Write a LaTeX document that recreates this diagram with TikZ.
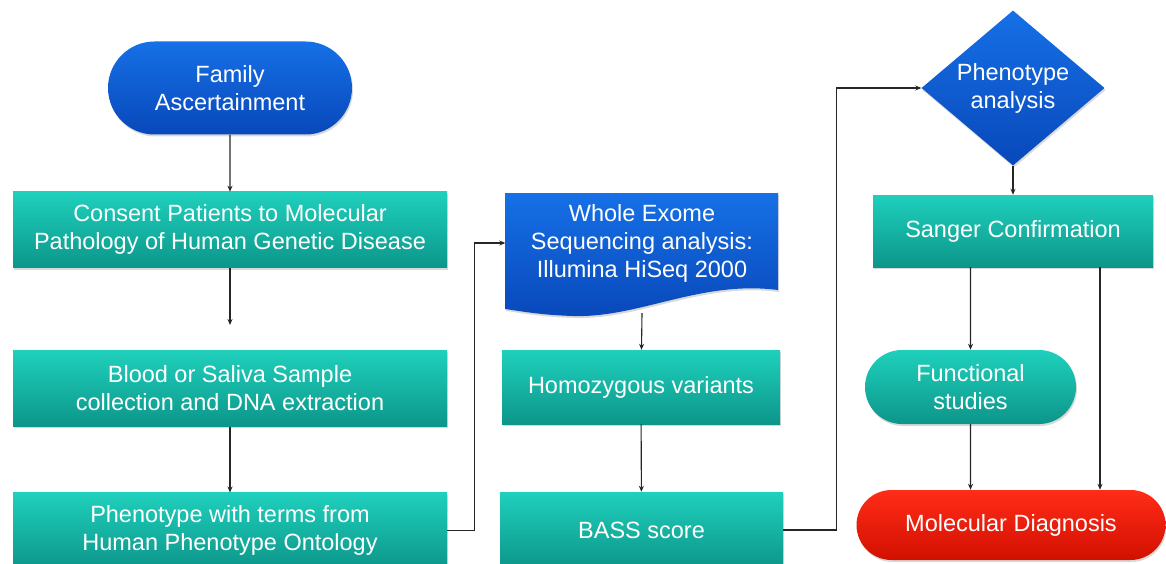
\documentclass[tikz,border=0pt]{standalone}
\usepackage{fontspec}
\setmainfont{Liberation Sans}
\usetikzlibrary{arrows.meta, positioning, shapes.geometric, shapes.misc, shadows}

\definecolor{tealtop}{HTML}{1FD0BC}
\definecolor{tealbot}{HTML}{0C968A}
\definecolor{bluetop}{HTML}{1670E6}
\definecolor{bluebot}{HTML}{0848BA}
\definecolor{redtop}{HTML}{FF2C18}
\definecolor{redbot}{HTML}{D21000}

\tikzset{larrow/.style = {-{Stealth[length=6pt,width=5pt]}, line width=1.1pt, draw=black!85}}
\tikzset{
  flowtext/.style = {text=white, align=center, inner sep=0pt,
                     font=\fontsize{23.5}{28}\selectfont},
  soft/.style = {drop shadow={opacity=0.3, shadow xshift=1pt, shadow yshift=-2pt}},
  tealbox/.style = {flowtext, soft, rectangle, top color=tealtop, bottom color=tealbot},
  bluebox/.style = {flowtext, soft, top color=bluetop, bottom color=bluebot},
  redbox/.style = {flowtext, soft, top color=redtop, bottom color=redbot},
}

\begin{document}
\begin{tikzpicture}[x=1pt, y=-1pt]
    \useasboundingbox (0,0) rectangle (1166,564);

    % left column
    \node[bluebox, rounded rectangle, minimum width=244pt, minimum height=93pt] (fam) at (230,88) {Family\\Ascertainment};
    \node[tealbox, minimum width=434pt, minimum height=76pt] (cons) [below=57pt of fam] {Consent Patients to Molecular\\Pathology of Human Genetic Disease};
    \node[tealbox, minimum width=434pt, minimum height=76pt] (blood) [below=82pt of cons] {Blood or Saliva Sample\\collection and DNA extraction};
    \node[tealbox, minimum width=434pt, minimum height=76pt] (pheno) [below=66pt of blood] {Phenotype with terms from\\Human Phenotype Ontology};

    % middle column
    \shade[top color=bluetop, bottom color=bluebot, soft]
        (505,193) -- (778,193) -- (778,290)
        .. controls (700,280) and (640,318) .. (573,316)
        .. controls (540,315) and (520,311) .. (505,309) -- cycle;
    \node[flowtext, minimum width=273pt, minimum height=140pt] (wes) at (642,243) {Whole Exome\\Sequencing analysis:\\Illumina HiSeq 2000};
    \node[tealbox, minimum width=278pt, minimum height=74pt] (homo) at (641,387) {Homozygous variants};
    \node[tealbox, minimum width=283pt, minimum height=76pt] (bass) at (641.5,530) {BASS score};

    % right column
    \node[bluebox, diamond, inner sep=-5pt, minimum width=183pt, minimum height=155pt] (dia) at (1013,88) {Phenotype\\analysis};
    \node[tealbox, minimum width=280pt, minimum height=72pt] (sang) at (1013,231) {Sanger Confirmation};
    \node[tealbox, rounded rectangle, minimum width=211pt, minimum height=74pt] (func) at (970.5,387) {Functional\\studies};
    \node[redbox, rounded rectangle, minimum width=309pt, minimum height=70pt] (mol) at (1011,525) {Molecular Diagnosis};

    \coordinate (gap) at (230,325);
    \coordinate (side) at (1100,267);

    \draw[larrow] (fam) -- (cons);
    \draw[larrow] (cons) -- (gap);
    \draw[larrow] (blood) -- (pheno);
    \draw[larrow] (pheno.east) -- ++(27,0) |- (wes.west);
    \draw[larrow] (wes.south) -- (homo);
    \draw[larrow] (homo) -- (bass);
    \draw[larrow] (bass.east) -- ++(53,0) |- (dia.west);
    \draw[larrow] (dia) -- (sang);
    \draw[larrow] (sang.south -| func) -- (func);
    \draw[larrow] (func) -- (func |- mol.north);
    \draw[larrow] (side) -- (side |- mol.north);
\end{tikzpicture}
\end{document}
